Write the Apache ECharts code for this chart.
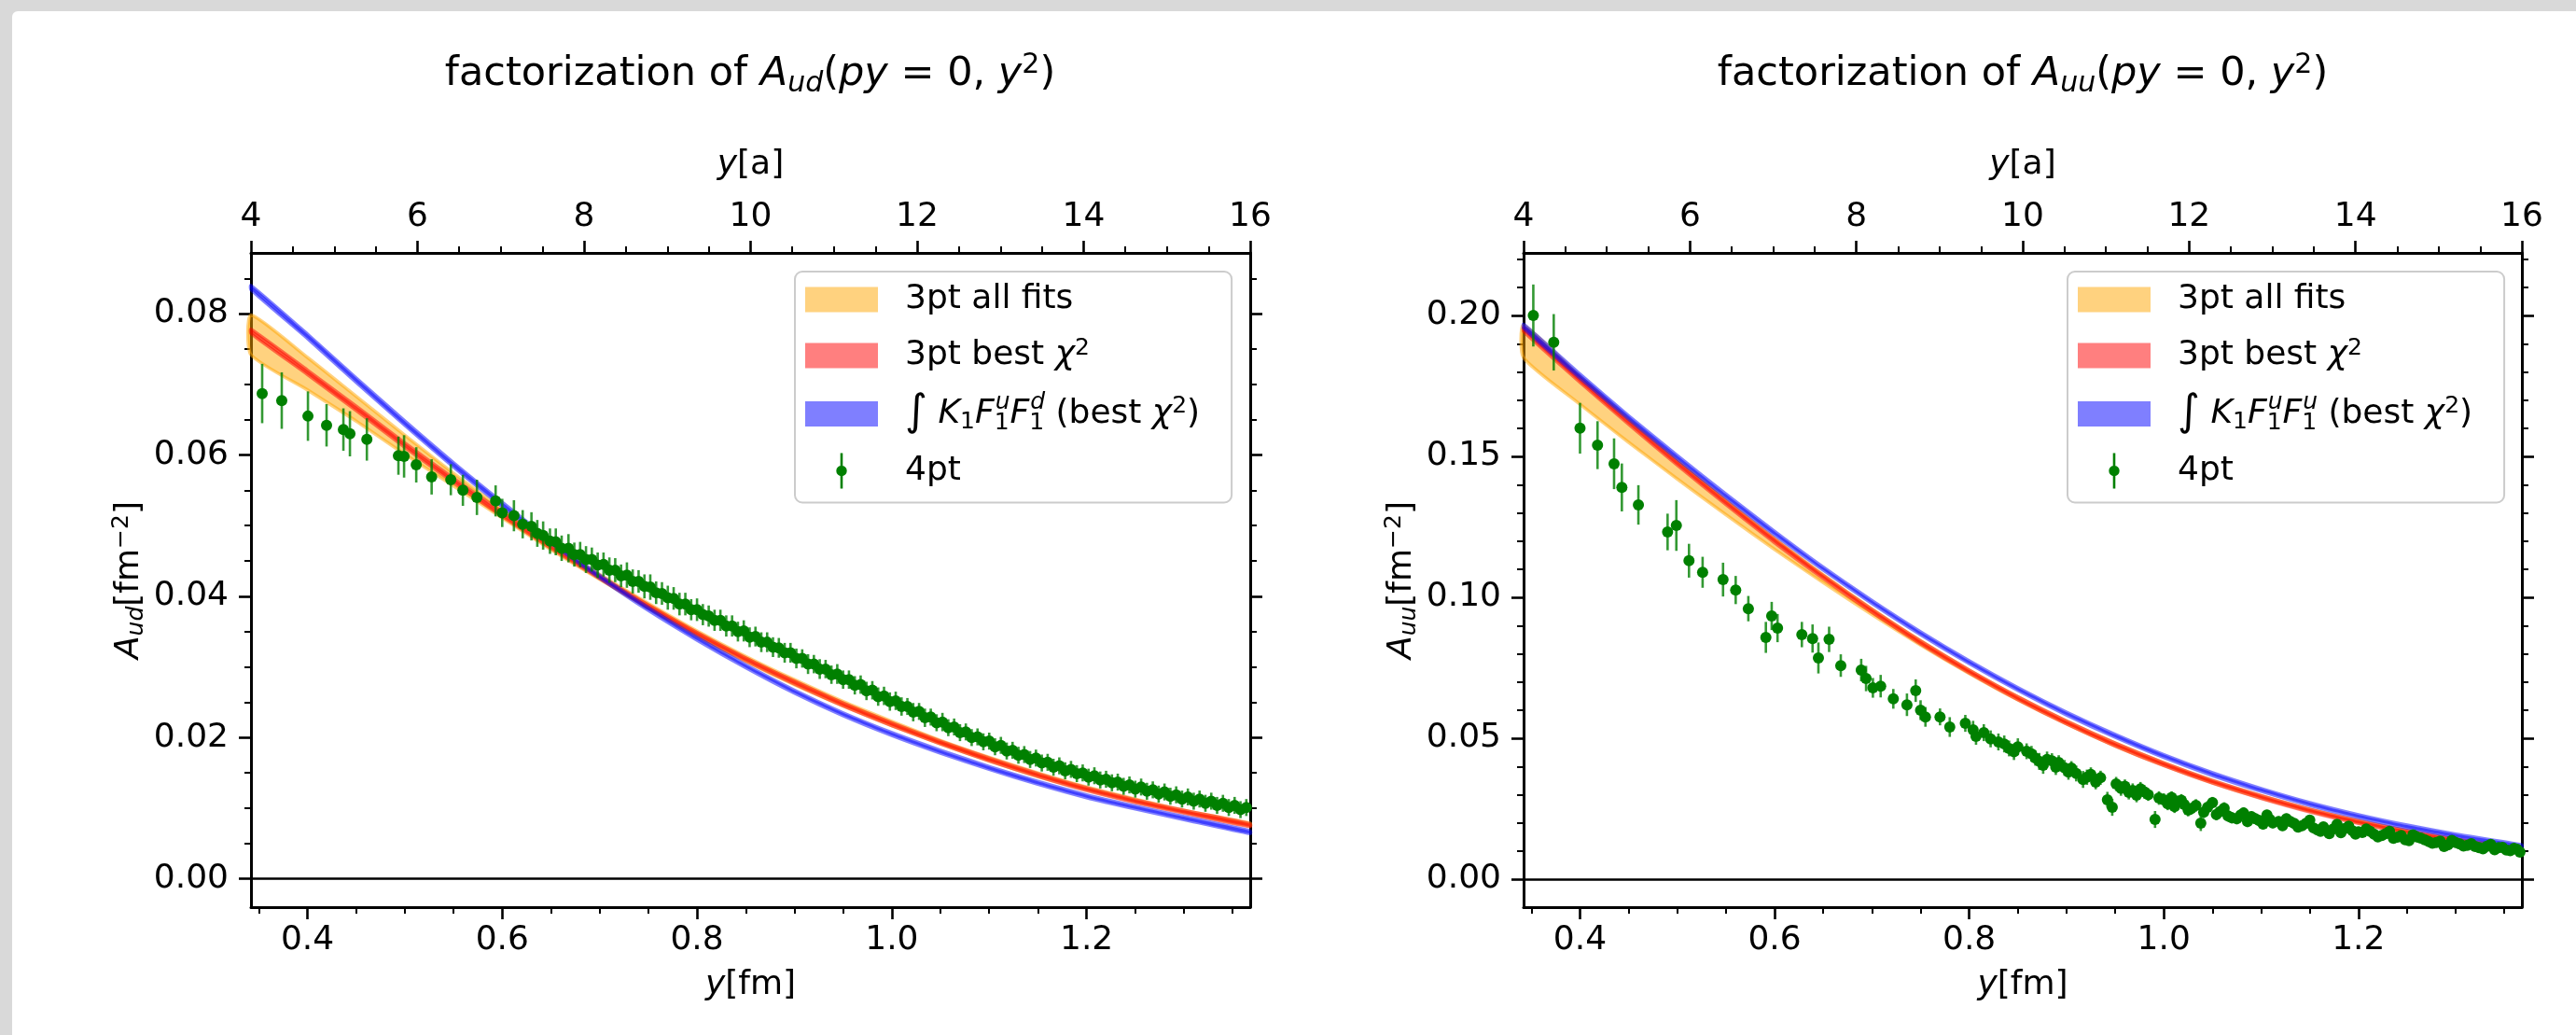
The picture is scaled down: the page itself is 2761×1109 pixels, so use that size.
<!DOCTYPE html>
<html>
<head>
<meta charset="utf-8">
<title>factorization of A(py=0, y^2)</title>
<script src="https://cdn.jsdelivr.net/npm/echarts@6/dist/echarts.min.js"></script>
<style>
  html, body { margin: 0; padding: 0; width: 2761px; height: 1109px; overflow: hidden; background: #d9d9d9; }
  #paper { position: absolute; left: 13px; top: 12px; right: 0; bottom: 0; background: #fff; border-top-left-radius: 6px; }
  #chart { position: absolute; left: 0; top: 0; width: 2761px; height: 1109px; }
</style>
</head>
<body>
<div id="paper"></div>
<div id="chart"></div>
<script type="text/javascript">
// ---- axes ----
var fmMin = 0.342, fmMax = 1.368;
var fmTicks = [0.4, 0.6, 0.8, 1.0, 1.2];
var fmMinor = [0.35, 0.45, 0.5, 0.55, 0.65, 0.7, 0.75, 0.85, 0.9, 0.95, 1.05, 1.1, 1.15, 1.25, 1.3, 1.35];
var udRange = [-0.004, 0.0886];
var udTicks = [0, 0.02, 0.04, 0.06, 0.08];
var udMinor = [0.005, 0.01, 0.015, 0.025, 0.03, 0.035, 0.045, 0.05, 0.055, 0.065, 0.07, 0.075, 0.085];
var uuRange = [-0.0099, 0.2222];
var uuTicks = [0, 0.05, 0.10, 0.15, 0.20];
var uuMinor = [0.01, 0.02, 0.03, 0.04, 0.06, 0.07, 0.08, 0.09, 0.11, 0.12, 0.13, 0.14, 0.16, 0.17, 0.18, 0.19, 0.21, 0.22];

// ---- fit curves (y in fm) ----
var curveX = [0.342, 0.4, 0.45, 0.5, 0.55, 0.6, 0.65, 0.7, 0.75, 0.8, 0.85, 0.9, 0.95, 1.0, 1.05, 1.1, 1.15, 1.2, 1.25, 1.3, 1.368];

var udAllLo  = [.0742, .0692, .0648, .0601, .0556, .0511, .0466, .0424, .0383, .0344, .0308, .0275, .0245, .0217, .0191, .0167, .0145, .0126, .0109, .0094, .0075];
var udAllHi  = [.0798, .0738, .0683, .0628, .0574, .0523, .0475, .0431, .0390, .0351, .0315, .0282, .0251, .0223, .0196, .0172, .0150, .0130, .0113, .0097, .0079];
var udBest   = [.0775, .0717, .0666, .0614, .0564, .0516, .0470, .0427, .0386, .0347, .0311, .0278, .0247, .0219, .0193, .0169, .0147, .0127, .0110, .0095, .0076];
var udBestE  = [.0003, .0003, .0003, .0003, .0003, .0003, .0002, .0002, .0002, .0002, .0002, .0002, .0002, .0002, .0002, .0002, .0002, .0002, .0002, .0002, .0002];
var udInt    = [.0837, .0768, .0706, .0645, .0586, .0530, .0477, .0428, .0382, .0340, .0301, .0265, .0233, .0205, .0180, .0157, .0136, .0117, .0101, .0086, .0066];
var udIntE   = [.0003, .0003, .0003, .0003, .0003, .0003, .0002, .0002, .0002, .0002, .0002, .0002, .0002, .0002, .0002, .0002, .0002, .0002, .0002, .0002, .0002];

var uuAllLo  = [.1850, .1685, .1550, .1420, .1293, .1170, .1052, .0939, .0831, .0730, .0636, .0551, .0473, .0404, .0342, .0288, .0241, .0200, .0165, .0135, .0100];
var uuAllHi  = [.1965, .1783, .1632, .1486, .1345, .1209, .1080, .0959, .0846, .0742, .0647, .0561, .0483, .0413, .0350, .0296, .0248, .0207, .0171, .0141, .0106];
var uuBest   = [.1950, .1770, .1620, .1475, .1335, .1200, .1072, .0952, .0840, .0737, .0642, .0556, .0478, .0408, .0346, .0292, .0244, .0203, .0168, .0138, .0103];
var uuBestE  = [.0007, .0007, .0006, .0006, .0006, .0006, .0005, .0005, .0005, .0005, .0005, .0005, .0005, .0005, .0005, .0005, .0005, .0005, .0005, .0005, .0005];
var uuInt    = [.1962, .1785, .1638, .1497, .1360, .1228, .1102, .0984, .0873, .0770, .0675, .0588, .0509, .0437, .0373, .0317, .0267, .0224, .0187, .0155, .0117];
var uuIntE   = [.0007, .0007, .0006, .0006, .0006, .0006, .0005, .0005, .0005, .0005, .0005, .0005, .0005, .0005, .0005, .0005, .0005, .0005, .0005, .0005, .0005];

// ---- 4pt data: [y(fm), value, error] ----
var udPts = [
  [0.3535, 0.0687, 0.0042], [0.3736, 0.0677, 0.0040], [0.4005, 0.0655, 0.0035], [0.4196, 0.0642, 0.0030],
  [0.4369, 0.0636, 0.0030], [0.4436, 0.0630, 0.0032], [0.4610, 0.0622, 0.0030], [0.4934, 0.0599, 0.0027],
  [0.4992, 0.0598, 0.0030], [0.5117, 0.0586, 0.0025], [0.5275, 0.0569, 0.0025], [0.5472, 0.0565, 0.0022],
  [0.5596, 0.0550, 0.0022], [0.5740, 0.0540, 0.0025], [0.5932, 0.0535, 0.0022], [0.6000, 0.0518, 0.0020],
  [0.612, 0.0514, 0.0022], [0.621, 0.0502, 0.0020], [0.630, 0.0499, 0.0020], [0.636, 0.0489, 0.0019],
  [0.642, 0.0486, 0.0020], [0.649, 0.0478, 0.0018], [0.655, 0.0477, 0.0019], [0.661, 0.0468, 0.0018],
  [0.668, 0.0468, 0.0020], [0.674, 0.0459, 0.0017], [0.680, 0.0459, 0.0018], [0.686, 0.0452, 0.0019],
  [0.692, 0.0452, 0.0017], [0.698, 0.0444, 0.0018], [0.704, 0.0445, 0.0017], [0.710, 0.0437, 0.0018],
  [0.716, 0.0437, 0.0017], [0.722, 0.0429, 0.0016], [0.728, 0.0430, 0.0018], [0.734, 0.0421, 0.0017],
  [0.740, 0.0421, 0.0016], [0.746, 0.0414, 0.0017], [0.752, 0.0413, 0.0018], [0.758, 0.0405, 0.0016],
  [0.764, 0.0404, 0.0016], [0.770, 0.0398, 0.0017], [0.776, 0.0397, 0.0016], [0.782, 0.0389, 0.0016],
  [0.788, 0.0389, 0.0016], [0.794, 0.0381, 0.0015], [0.800, 0.0381, 0.0016], [0.806, 0.0374, 0.0015],
  [0.812, 0.0372, 0.0015], [0.818, 0.0366, 0.0015], [0.824, 0.0366, 0.0015], [0.830, 0.0358, 0.0015],
  [0.836, 0.0358, 0.0015], [0.842, 0.0350, 0.0014], [0.848, 0.0351, 0.0015], [0.854, 0.0342, 0.0014],
  [0.860, 0.0343, 0.0014], [0.866, 0.0335, 0.0014], [0.872, 0.0335, 0.0014], [0.878, 0.0328, 0.0014],
  [0.884, 0.0327, 0.0014], [0.890, 0.0320, 0.0014], [0.896, 0.0320, 0.0014], [0.902, 0.0312, 0.0014],
  [0.908, 0.0312, 0.0013], [0.914, 0.0304, 0.0014], [0.920, 0.0304, 0.0013], [0.926, 0.0297, 0.0014],
  [0.932, 0.0297, 0.0013], [0.938, 0.0289, 0.0013], [0.944, 0.0290, 0.0014], [0.950, 0.0282, 0.0013],
  [0.956, 0.0282, 0.0013], [0.962, 0.0274, 0.0013], [0.968, 0.0275, 0.0013], [0.974, 0.0266, 0.0013],
  [0.980, 0.0267, 0.0013], [0.986, 0.0258, 0.0013], [0.992, 0.0259, 0.0013], [0.998, 0.0251, 0.0013],
  [1.004, 0.0252, 0.0013], [1.010, 0.0244, 0.0013], [1.016, 0.0244, 0.0012], [1.022, 0.0236, 0.0013],
  [1.028, 0.0237, 0.0012], [1.034, 0.0228, 0.0013], [1.040, 0.0229, 0.0012], [1.046, 0.0221, 0.0012],
  [1.052, 0.0222, 0.0013], [1.058, 0.0214, 0.0012], [1.064, 0.0215, 0.0012], [1.070, 0.0207, 0.0012],
  [1.076, 0.0208, 0.0012], [1.082, 0.0200, 0.0012], [1.088, 0.0201, 0.0012], [1.094, 0.0194, 0.0012],
  [1.100, 0.0195, 0.0012], [1.106, 0.0187, 0.0012], [1.112, 0.0189, 0.0012], [1.118, 0.0181, 0.0012],
  [1.124, 0.0182, 0.0012], [1.130, 0.0175, 0.0012], [1.136, 0.0176, 0.0012], [1.142, 0.0169, 0.0012],
  [1.148, 0.0171, 0.0012], [1.154, 0.0164, 0.0012], [1.160, 0.0165, 0.0012], [1.166, 0.0158, 0.0012],
  [1.172, 0.0160, 0.0012], [1.178, 0.0153, 0.0012], [1.184, 0.0155, 0.0012], [1.190, 0.0149, 0.0012],
  [1.196, 0.0150, 0.0012], [1.202, 0.0144, 0.0012], [1.208, 0.0146, 0.0012], [1.214, 0.0140, 0.0012],
  [1.220, 0.0141, 0.0012], [1.226, 0.0136, 0.0012], [1.232, 0.0137, 0.0012], [1.238, 0.0131, 0.0012],
  [1.244, 0.0133, 0.0012], [1.250, 0.0127, 0.0012], [1.256, 0.0130, 0.0012], [1.262, 0.0124, 0.0012],
  [1.268, 0.0126, 0.0012], [1.274, 0.0120, 0.0012], [1.280, 0.0123, 0.0012], [1.286, 0.0117, 0.0012],
  [1.292, 0.0119, 0.0012], [1.298, 0.0113, 0.0012], [1.304, 0.0116, 0.0012], [1.310, 0.0110, 0.0012],
  [1.316, 0.0113, 0.0012], [1.322, 0.0107, 0.0012], [1.328, 0.0110, 0.0012], [1.334, 0.0104, 0.0012],
  [1.340, 0.0107, 0.0012], [1.346, 0.0101, 0.0012], [1.352, 0.0104, 0.0012], [1.358, 0.0098, 0.0012],
  [1.364, 0.0101, 0.0012]
];

var uuPts = [
  [0.352, 0.2000, 0.0110], [0.373, 0.1905, 0.0100], [0.400, 0.1600, 0.0090], [0.418, 0.1540, 0.0085],
  [0.435, 0.1474, 0.0090], [0.443, 0.1390, 0.0085], [0.460, 0.1328, 0.0070], [0.490, 0.1232, 0.0065],
  [0.499, 0.1255, 0.0090], [0.512, 0.1130, 0.0060], [0.526, 0.1089, 0.0055], [0.547, 0.1063, 0.0060],
  [0.560, 0.1026, 0.0050], [0.573, 0.0960, 0.0045], [0.591, 0.0858, 0.0055], [0.597, 0.0934, 0.0050],
  [0.603, 0.0891, 0.0050], [0.628, 0.0868, 0.0045], [0.639, 0.0854, 0.0050], [0.645, 0.0785, 0.0055],
  [0.656, 0.0851, 0.0045], [0.668, 0.0758, 0.0040], [0.689, 0.0742, 0.0040], [0.694, 0.0712, 0.0045],
  [0.701, 0.0679, 0.0035], [0.709, 0.0685, 0.0040], [0.722, 0.0640, 0.0035], [0.736, 0.0619, 0.0040],
  [0.745, 0.0669, 0.0040], [0.750, 0.0600, 0.0035], [0.755, 0.0576, 0.0035], [0.770, 0.0576, 0.0030],
  [0.780, 0.0540, 0.0035], [0.796, 0.0553, 0.0030], [0.807, 0.0507, 0.0030], [0.815, 0.0520, 0.0030],
  [0.830, 0.0487, 0.0030], [0.841, 0.0464, 0.0028], [0.850, 0.0470, 0.0030], [0.859, 0.0454, 0.0028],
  [0.868, 0.0430, 0.0027], [0.876, 0.0404, 0.0030], [0.885, 0.0420, 0.0027], [0.892, 0.0414, 0.0026],
  [0.898, 0.0395, 0.0028], [0.905, 0.0394, 0.0025], [0.917, 0.0354, 0.0030], [0.925, 0.0372, 0.0025],
  [0.935, 0.0360, 0.0025], [0.942, 0.0282, 0.0028], [0.947, 0.0255, 0.0030], [0.951, 0.0338, 0.0025],
  [0.960, 0.0330, 0.0024], [0.968, 0.0315, 0.0025], [0.976, 0.0321, 0.0024], [0.984, 0.0300, 0.0022],
  [0.991, 0.0212, 0.0030], [1.000, 0.0282, 0.0023], [1.008, 0.0290, 0.0022], [1.014, 0.0275, 0.0022],
  [1.021, 0.0265, 0.0022], [1.028, 0.0250, 0.0020], [1.038, 0.0199, 0.0028], [1.045, 0.0255, 0.0022],
  [1.050, 0.0272, 0.0020], [1.058, 0.0240, 0.0020], [1.066, 0.0225, 0.0021], [1.075, 0.0215, 0.0020],
  [1.082, 0.0235, 0.0020], [1.090, 0.0222, 0.0019], [1.098, 0.0208, 0.0020], [1.106, 0.0228, 0.0018],
  [1.112, 0.0200, 0.0019], [1.118, 0.0205, 0.0018], [1.126, 0.0215, 0.0018], [1.134, 0.0198, 0.0018],
  [1.142, 0.0190, 0.0017], [1.150, 0.0210, 0.0018], [1.158, 0.0175, 0.0017], [1.164, 0.0186, 0.0017],
  [1.170, 0.0162, 0.0018], [1.178, 0.0195, 0.0016], [1.186, 0.0180, 0.0016], [1.194, 0.0172, 0.0016],
  [1.200, 0.0168, 0.0016], [1.208, 0.0178, 0.0015], [1.216, 0.0160, 0.0016], [1.224, 0.0155, 0.0015],
  [1.232, 0.0170, 0.0015], [1.240, 0.0149, 0.0015], [1.248, 0.0140, 0.0016], [1.256, 0.0158, 0.0014],
  [1.264, 0.0146, 0.0015], [1.272, 0.0134, 0.0015], [1.280, 0.0130, 0.0014], [1.288, 0.0116, 0.0015],
  [1.296, 0.0138, 0.0014], [1.304, 0.0125, 0.0014], [1.312, 0.0120, 0.0014], [1.320, 0.0116, 0.0013],
  [1.328, 0.0108, 0.0014], [1.336, 0.0124, 0.0013], [1.344, 0.0112, 0.0013], [1.352, 0.0104, 0.0014],
  [1.360, 0.0110, 0.0013], [1.366, 0.0096, 0.0013],
  [0.804, 0.0530, 0.0032], [0.822, 0.0498, 0.0030], [0.836, 0.0480, 0.0030], [0.846, 0.0452, 0.0029],
  [0.864, 0.0445, 0.0028], [0.872, 0.0418, 0.0030], [0.880, 0.0425, 0.0028], [0.889, 0.0398, 0.0028],
  [0.902, 0.0380, 0.0027], [0.910, 0.0375, 0.0028], [0.921, 0.0362, 0.0027], [0.930, 0.0345, 0.0026],
  [0.956, 0.0322, 0.0026], [0.964, 0.0308, 0.0025], [0.972, 0.0298, 0.0025], [0.980, 0.0310, 0.0024],
  [0.995, 0.0288, 0.0024], [1.004, 0.0268, 0.0023], [1.011, 0.0258, 0.0023], [1.018, 0.0280, 0.0022],
  [1.025, 0.0245, 0.0022], [1.033, 0.0262, 0.0022], [1.041, 0.0238, 0.0021], [1.054, 0.0230, 0.0021],
  [1.062, 0.0252, 0.0021], [1.070, 0.0218, 0.0020], [1.079, 0.0228, 0.0020], [1.086, 0.0205, 0.0020],
  [1.094, 0.0215, 0.0019], [1.102, 0.0196, 0.0019], [1.109, 0.0212, 0.0019], [1.122, 0.0190, 0.0018],
  [1.130, 0.0205, 0.0018], [1.138, 0.0185, 0.0018], [1.146, 0.0198, 0.0017], [1.154, 0.0182, 0.0017],
  [1.161, 0.0170, 0.0017], [1.174, 0.0178, 0.0017], [1.182, 0.0165, 0.0016], [1.190, 0.0188, 0.0016],
  [1.197, 0.0160, 0.0016], [1.204, 0.0166, 0.0016], [1.212, 0.0170, 0.0015], [1.220, 0.0150, 0.0015],
  [1.228, 0.0162, 0.0015], [1.236, 0.0145, 0.0015], [1.244, 0.0155, 0.0015], [1.252, 0.0137, 0.0015],
  [1.260, 0.0150, 0.0014], [1.268, 0.0140, 0.0014], [1.276, 0.0128, 0.0014], [1.284, 0.0135, 0.0014],
  [1.292, 0.0122, 0.0014], [1.300, 0.0130, 0.0014], [1.308, 0.0118, 0.0014], [1.316, 0.0126, 0.0013],
  [1.324, 0.0112, 0.0013], [1.332, 0.0117, 0.0013], [1.340, 0.0105, 0.0013], [1.348, 0.0113, 0.0013],
  [1.356, 0.0101, 0.0013], [1.363, 0.0106, 0.0013]
];

// ---- styling ----
var FONT = 'DejaVu Sans';
var BLACK = '#000';
var C_ALL = 'rgba(255,165,0,0.5)';
var C_BEST = 'rgba(255,0,0,0.5)';
var C_INT = 'rgba(0,0,255,0.5)';
var C_DATA = '#008000';

function ts(size, extra) {
    var o = { fontFamily: FONT, fontSize: size, color: BLACK };
    for (var k in extra) o[k] = extra[k];
    return o;
}
// line height 44: sub/sup are moved by their own box height
var rich36 = {
    n: ts(36), i: ts(36, { fontStyle: 'italic' }),
    sub: ts(25, { verticalAlign: 'bottom', height: 26 }),
    isub: ts(25, { fontStyle: 'italic', verticalAlign: 'bottom', height: 28 }),
    sup: ts(25, { verticalAlign: 'top', height: 28 }),
    isup: ts(25, { fontStyle: 'italic', verticalAlign: 'top', height: 20 }),
    sub0: ts(25, { verticalAlign: 'bottom', height: 24, width: 1 }),
    intg: ts(46)
};
var nameStyle = ts(36, { lineHeight: 44, rich: rich36 });
var labelStyle = { fontFamily: FONT, fontSize: 36, color: BLACK };

function xAxesFor(g) {
    return [
        {
            type: 'value', gridIndex: g, position: 'bottom', min: fmMin, max: fmMax,
            splitLine: { show: false },
            axisLine: { onZero: false, lineStyle: { color: BLACK, width: 3 } },
            axisTick: { customValues: fmTicks, length: 13, lineStyle: { color: BLACK, width: 2.6 } },
            axisLabel: Object.assign({ customValues: fmTicks, margin: 18, formatter: function (v) { return v.toFixed(1); } }, labelStyle),
            name: '{i|y}[fm]', nameLocation: 'middle', nameGap: 62, nameTextStyle: nameStyle
        },
        {
            type: 'value', gridIndex: g, position: 'bottom', min: fmMin, max: fmMax,
            splitLine: { show: false }, axisLine: { show: false, onZero: false },
            axisTick: { customValues: fmMinor, length: 7, lineStyle: { color: BLACK, width: 2 } },
            axisLabel: { show: false }
        },
        {
            type: 'value', gridIndex: g, position: 'top', min: 4, max: 16, interval: 2,
            splitLine: { show: false },
            axisLine: { onZero: false, lineStyle: { color: BLACK, width: 3 } },
            axisTick: { length: 13, lineStyle: { color: BLACK, width: 2.6 } },
            minorTick: { show: true, splitNumber: 4, length: 7, lineStyle: { color: BLACK, width: 2 } },
            axisLabel: Object.assign({ margin: 20 }, labelStyle),
            name: '{i|y}[a]', nameLocation: 'middle', nameGap: 72, nameTextStyle: nameStyle
        }
    ];
}

function yAxesFor(g, range, ticks, minor, name) {
    var base = { type: 'value', gridIndex: g, min: range[0], max: range[1], splitLine: { show: false } };
    function ax(extra) { return Object.assign({}, base, extra); }
    var major = { customValues: ticks, length: 13, lineStyle: { color: BLACK, width: 2.6 } };
    var minr = { customValues: minor, length: 7, lineStyle: { color: BLACK, width: 2 } };
    return [
        ax({
            position: 'left', axisLine: { onZero: false, lineStyle: { color: BLACK, width: 3 } }, axisTick: major,
            axisLabel: Object.assign({ customValues: ticks, margin: 24, formatter: function (v) { return v.toFixed(2); } }, labelStyle),
            name: name, nameLocation: 'middle', nameGap: 104, nameTextStyle: nameStyle
        }),
        ax({ position: 'left', axisLine: { show: false, onZero: false }, axisTick: minr, axisLabel: { show: false } }),
        ax({ position: 'right', axisLine: { onZero: false, lineStyle: { color: BLACK, width: 3 } }, axisTick: major, axisLabel: { show: false } }),
        ax({ position: 'right', axisLine: { show: false, onZero: false }, axisTick: minr, axisLabel: { show: false } })
    ];
}

// band drawn as one polygon through the axes' scales
function bandSeries(name, g, lo, hi, color, z) {
    return {
        type: 'custom', name: name, xAxisIndex: 3 * g, yAxisIndex: 4 * g, z: z,
        itemStyle: { color: color }, silent: true,
        data: curveX.map(function (x, k) { return [x, lo[k], hi[k]]; }),
        encode: { x: 0, y: [1, 2] },
        renderItem: function (params, api) {
            if (params.dataIndex !== 0) return null;
            var pts = [], k;
            for (k = 0; k < curveX.length; k++) pts.push(api.coord([curveX[k], hi[k]]));
            for (k = curveX.length - 1; k >= 0; k--) pts.push(api.coord([curveX[k], lo[k]]));
            return { type: 'polygon', shape: { points: pts, smooth: 0.2 }, style: { fill: color, stroke: color, lineWidth: 3.6 } };
        }
    };
}
function midBand(name, g, mid, err, color, z) {
    return bandSeries(name, g,
        mid.map(function (v, k) { return v - err[k]; }),
        mid.map(function (v, k) { return v + err[k]; }), color, z);
}

function dataSeries(g, pts) {
    return [
        {
            type: 'custom', name: '4pt', xAxisIndex: 3 * g, yAxisIndex: 4 * g, z: 5, silent: true,
            itemStyle: { color: C_DATA },
            data: pts, encode: { x: 0, y: 1 },
            renderItem: function (params, api) {
                var x = api.value(0), y = api.value(1), e = api.value(2);
                var a = api.coord([x, y + e]), b = api.coord([x, y - e]);
                return { type: 'line', shape: { x1: a[0], y1: a[1], x2: b[0], y2: b[1] },
                         style: { stroke: 'rgba(0,128,0,0.8)', lineWidth: 2.6 } };
            }
        },
        {
            type: 'scatter', name: '4pt', xAxisIndex: 3 * g, yAxisIndex: 4 * g, z: 6, silent: true,
            symbol: 'circle', symbolSize: 12, itemStyle: { color: C_DATA, opacity: 1 },
            data: pts.map(function (p) { return [p[0], p[1]]; }),
            markLine: {
                silent: true, symbol: ['none', 'none'], label: { show: false },
                lineStyle: { color: BLACK, width: 2.6, type: 'solid' },
                data: [{ yAxis: 0 }]
            }
        }
    ];
}

var RECT = 'path://M0,0h78v27h-78z';
var ERRB = 'path://M9,0h2.6v38h-2.6z M4.6,19a5.7,5.7 0 1,1 11.4,0a5.7,5.7 0 1,1 -11.4,0z';
var legendText = {
    '3pt all fits': '3pt all fits',
    '3pt best χ2': '3pt best {i|χ}{sup|2}',
    'int ud': '{intg|∫} {i|K}{sub|1}{i|F}{sub0|1}{isup|u}{i|F}{sub0|1}{isup|d} (best {i|χ}{sup|2})',
    'int uu': '{intg|∫} {i|K}{sub|1}{i|F}{sub0|1}{isup|u}{i|F}{sub0|1}{isup|u} (best {i|χ}{sup|2})',
    '4pt': '4pt'
};
function legendFor(left, intName) {
    return {
        orient: 'vertical', left: left, top: 291, selectedMode: false,
        itemWidth: 78, itemHeight: 38, itemGap: 16, symbolKeepAspect: true,
        padding: [8, 34, 12, 11],
        backgroundColor: 'rgba(255,255,255,0.8)', borderColor: '#cccccc', borderWidth: 2, borderRadius: 8,
        textStyle: ts(36, { lineHeight: 44, padding: [0, 0, 0, 24], rich: rich36 }),
        formatter: function (n) { return legendText[n]; },
        data: [
            { name: '3pt all fits', icon: RECT },
            { name: '3pt best χ2', icon: RECT },
            { name: intName, icon: RECT },
            { name: '4pt', icon: ERRB }
        ]
    };
}

var titleRich = {
    i: { fontFamily: FONT, fontSize: 43, fontStyle: 'italic', fill: BLACK },
    isub: { fontFamily: FONT, fontSize: 30, fontStyle: 'italic', fill: BLACK, verticalAlign: 'bottom', height: 30 },
    sup: { fontFamily: FONT, fontSize: 30, fill: BLACK, verticalAlign: 'top', height: 30 }
};
function titleFor(x, sub) {
    return {
        type: 'text', x: x, y: 80, silent: true,
        style: {
            text: 'factorization of {i|A}{isub|' + sub + '}({i|py} = 0, {i|y}{sup|2})',
            fontFamily: FONT, fontSize: 43, fill: BLACK, lineHeight: 50,
            align: 'center', verticalAlign: 'middle', rich: titleRich
        }
    };
}

var myChart = echarts.init(document.getElementById('chart'), null, { renderer: 'canvas' });
var option = {
    animation: false,
    backgroundColor: 'transparent',
    textStyle: { fontFamily: FONT },
    grid: [
        { left: 269, top: 271, width: 1071, height: 701, outerBoundsMode: 'none' },
        { left: 1633, top: 271, width: 1070, height: 701, outerBoundsMode: 'none' }
    ],
    xAxis: xAxesFor(0).concat(xAxesFor(1)),
    yAxis: yAxesFor(0, udRange, udTicks, udMinor, '{i|A}{isub|ud}[fm{sup|−2}]')
        .concat(yAxesFor(1, uuRange, uuTicks, uuMinor, '{i|A}{isub|uu}[fm{sup|−2}]')),
    legend: [legendFor(852, 'int ud'), legendFor(2216, 'int uu')],
    graphic: [titleFor(804, 'ud'), titleFor(2168, 'uu')],
    series: [
        bandSeries('3pt all fits', 0, udAllLo, udAllHi, C_ALL, 1),
        midBand('3pt best χ2', 0, udBest, udBestE, C_BEST, 2),
        midBand('int ud', 0, udInt, udIntE, C_INT, 3),
        bandSeries('3pt all fits', 1, uuAllLo, uuAllHi, C_ALL, 1),
        midBand('3pt best χ2', 1, uuBest, uuBestE, C_BEST, 2),
        midBand('int uu', 1, uuInt, uuIntE, C_INT, 3)
    ].concat(dataSeries(0, udPts), dataSeries(1, uuPts))
};
myChart.setOption(option);
</script>
</body>
</html>
